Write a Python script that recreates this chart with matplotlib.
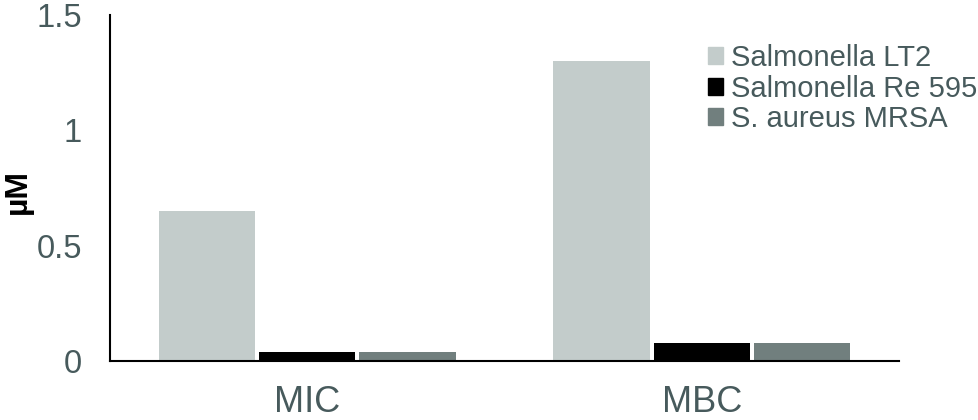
import numpy as np
import matplotlib.pyplot as plt
from matplotlib.patches import Patch

categories = ["MIC", "MBC"]
series = ["Salmonella LT2", "Salmonella Re 595", "S. aureus MRSA"]
lt2 = [0.65, 1.3]
re595 = [0.04, 0.08]
mrsa = [0.04, 0.08]

colors = ["#c3cccb", "#000000", "#717f7e"]
text_color = "#475a5c"

plt.rcParams["font.family"] = ["Liberation Sans", "DejaVu Sans"]

fig = plt.figure(figsize=(9.79, 4.2), dpi=100)
ax = fig.add_axes([110 / 979, 59 / 420, 789 / 979, 346 / 420])

x = np.arange(len(categories))
pitch = 0.254
width = 0.244
for i, (vals, name) in enumerate(zip([lt2, re595, mrsa], series)):
    ax.bar(x + (i - 1) * pitch, vals, width, color=colors[i], label=name)

ax.set_xlim(-0.5, 1.5)
ax.set_ylim(0, 1.5)
ax.set_yticks([0, 0.5, 1, 1.5])
ax.set_yticklabels(["0", "0.5", "1", "1.5"])
ax.set_xticks(x)
ax.set_xticklabels(categories)
ax.tick_params(axis="y", length=0, pad=20, labelsize=23.5, labelcolor=text_color)
ax.tick_params(axis="x", length=0, pad=17, labelsize=26, labelcolor=text_color)

for s in ["top", "right"]:
    ax.spines[s].set_visible(False)
for s in ["left", "bottom"]:
    ax.spines[s].set_linewidth(1.5)
    ax.spines[s].set_color("black")

fig.text(17.5 / 979, 1 - 192 / 420, "µM", rotation=90, fontsize=23, fontweight="bold",
         ha="center", va="center")

handles = [Patch(color=c) for c in colors]
ax.legend(handles, series, loc="upper left", bbox_to_anchor=(708 / 979, 376 / 420),
          bbox_transform=fig.transFigure, frameon=False, fontsize=21,
          handlelength=0.51, handleheight=0.51, handletextpad=0.28,
          labelspacing=0.09, borderpad=0, borderaxespad=0, labelcolor=text_color)

fig.savefig("out.png", dpi=100)
